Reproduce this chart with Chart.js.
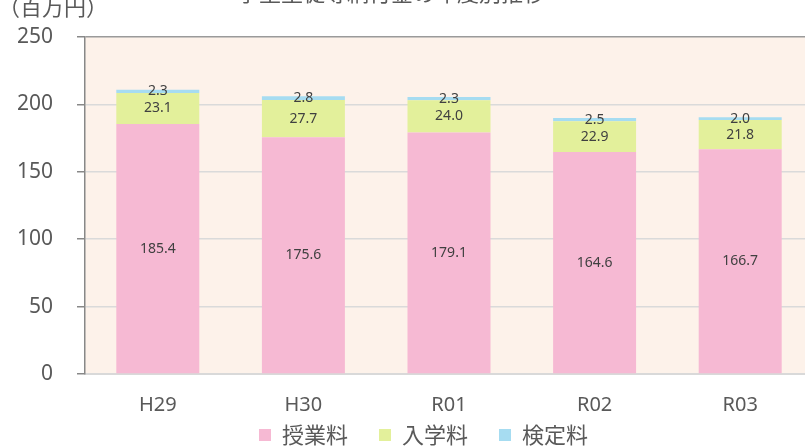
<!DOCTYPE html>
<html>
<head>
<meta charset="utf-8">
<script src="https://cdn.jsdelivr.net/npm/chart.js@4/dist/chart.umd.min.js"></script>
<style>
  html, body { margin: 0; padding: 0; background: #fff; overflow: hidden; }
  #wrap { position: relative; width: 805px; height: 446px; overflow: hidden; }
  #box { position: absolute; left: 0; top: 0; width: 813px; height: 491px; }
</style>
</head>
<body>
<div id="wrap"><div id="box"><canvas id="feeChart"></canvas></div></div>
<script>
const years = ['H29', 'H30', 'R01', 'R02', 'R03'];
const tuition = [185.4, 175.6, 179.1, 164.6, 166.7];   // 授業料
const entrance = [23.1, 27.7, 24.0, 22.9, 21.8];      // 入学料
const exam = [2.3, 2.8, 2.3, 2.5, 2.0];               // 検定料
const yTicks = [0, 50, 100, 150, 200, 250];

const chartTitle = '学生生徒等納付金の年度別推移';
const unitLabel = '（百万円）';

const jpFont = '"Noto Sans CJK JP", "Noto Sans", sans-serif';

// plot area background
const plotBg = {
    id: 'plotBg',
    beforeDraw(chart) {
        const { ctx, chartArea: a } = chart;
        ctx.save();
        ctx.fillStyle = '#FDF2EA';
        ctx.fillRect(a.left, a.top, a.right - a.left, a.bottom - a.top);
        ctx.restore();
    }
};

// title + unit (both partly cut off at the top)
const headText = {
    id: 'headText',
    afterDraw(chart) {
        const ctx = chart.ctx;
        ctx.save();
        ctx.fillStyle = '#595959';
        ctx.textBaseline = 'alphabetic';
        ctx.font = '22px ' + jpFont;
        ctx.textAlign = 'center';
        ctx.fillText(chartTitle, 391, 1);
        ctx.font = '22px ' + jpFont;
        ctx.textAlign = 'left';
        ctx.fillText(unitLabel, -2, 15);
        ctx.restore();
    }
};

// value labels in the middle of each segment
const segLabels = {
    id: 'segLabels',
    afterDatasetsDraw(chart) {
        const ctx = chart.ctx;
        ctx.save();
        ctx.font = '14px "Noto Sans", sans-serif';
        ctx.fillStyle = '#404040';
        ctx.textAlign = 'center';
        ctx.textBaseline = 'middle';
        chart.data.datasets.forEach((ds, i) => {
            chart.getDatasetMeta(i).data.forEach((bar, j) => {
                const y = (bar.y + bar.base) / 2;
                ctx.fillText(ds.data[j].toFixed(1), bar.x, y);
            });
        });
        ctx.restore();
    }
};

// move the legend up under the axis and a bit to the right, like the original
const legendShift = {
    id: 'legendShift',
    afterLayout(chart) {
        const lg = chart.legend;
        if (lg) {
            lg.top -= 35;
            lg.bottom -= 35;
            lg.left += 17;
            lg.right += 17;
        }
    }
};

const ctx = document.getElementById('feeChart').getContext('2d');
new Chart(ctx, {
    type: 'bar',
    data: {
        labels: years,
        datasets: [
            { label: '授業料', data: tuition, backgroundColor: '#F6B9D3' },
            { label: '入学料', data: entrance, backgroundColor: '#E3F09B' },
            { label: '検定料', data: exam, backgroundColor: '#A6DCF1' }
        ]
    },
    options: {
        responsive: true,
        maintainAspectRatio: false,
        animation: false,
        layout: { padding: { top: 37, right: 0, bottom: 0, left: 0 } },
        datasets: {
            bar: { barPercentage: 0.57, categoryPercentage: 1, borderWidth: 0 }
        },
        scales: {
            x: {
                stacked: true,
                grid: { display: false },
                border: { display: true, color: '#D9D9D9', width: 2 },
                ticks: {
                    color: '#595959',
                    font: { size: 20, family: '"Noto Sans", sans-serif' },
                    padding: 11
                }
            },
            y: {
                stacked: true,
                min: 0,
                max: 250,
                afterFit(scale) { scale.width = 85; },
                afterBuildTicks(scale) { scale.ticks = yTicks.map(v => ({ value: v })); },
                grid: {
                    color: ctx => ctx.tick && ctx.tick.value === 250 ? '#9A9A9A' : '#DADADA',
                    lineWidth: 1.5,
                    tickColor: '#888888',
                    tickLength: 8
                },
                border: { display: true, color: '#888888', width: 1.5 },
                ticks: {
                    color: '#595959',
                    font: { size: 21, family: '"Noto Sans", sans-serif' },
                    padding: 24
                }
            }
        },
        plugins: {
            legend: {
                position: 'bottom',
                labels: {
                    boxWidth: 12,
                    boxHeight: 12,
                    color: '#595959',
                    padding: 31,
                    font: { size: 22, family: jpFont }
                }
            },
            tooltip: { enabled: false }
        }
    },
    plugins: [plotBg, headText, segLabels, legendShift]
});
</script>
</body>
</html>
